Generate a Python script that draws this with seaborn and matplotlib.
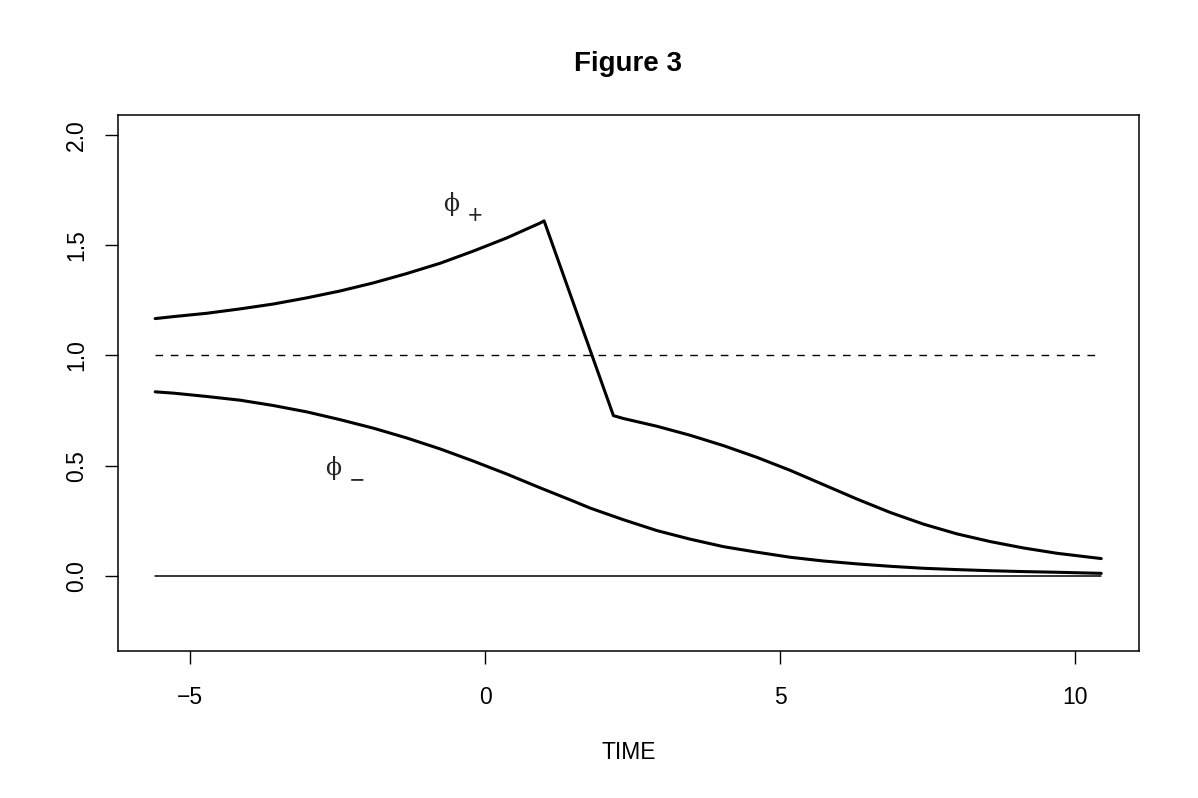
import matplotlib
matplotlib.use("Agg")
import matplotlib.pyplot as plt
import seaborn as sns
import pandas as pd

# ---- data ----
time_plus = [-5.59, -5.28, -4.72, -4.15, -3.59, -3.02, -2.46, -1.89,
             -1.33, -0.76, -0.20, 0.37, 0.93, 1.00,
             2.175, 2.345, 2.91, 3.475, 4.04, 4.605, 5.17, 5.735, 6.30,
             6.865, 7.43, 7.995, 8.56, 9.125, 9.69, 10.44]
phi_plus = [1.167, 1.176, 1.191, 1.211, 1.233, 1.261, 1.292, 1.329,
            1.371, 1.418, 1.473, 1.533, 1.600, 1.610,
            0.727, 0.714, 0.679, 0.638, 0.591, 0.538, 0.479, 0.414, 0.349,
            0.288, 0.235, 0.191, 0.156, 0.127, 0.103, 0.079]

time_minus = [-5.59, -5.28, -4.72, -4.15, -3.59, -3.02, -2.46, -1.89,
              -1.33, -0.76, -0.20, 0.37, 0.93, 1.50, 1.78,
              2.345, 2.91, 3.475, 4.04, 4.605, 5.17, 5.735, 6.30,
              6.865, 7.43, 7.995, 8.56, 9.125, 9.69, 10.44]
phi_minus = [0.835, 0.829, 0.814, 0.797, 0.773, 0.744, 0.709, 0.670,
             0.626, 0.576, 0.521, 0.462, 0.400, 0.339, 0.308,
             0.255, 0.206, 0.167, 0.133, 0.108, 0.085, 0.068, 0.055,
             0.044, 0.035, 0.029, 0.024, 0.020, 0.017, 0.012]

ref_time = [-5.59, 10.44]
ref_one = [1.0, 1.0]
ref_zero = [0.0, 0.0]

x_ticks = [-5, 0, 5, 10]
x_tick_labels = ["\u22125", "0", "5", "10"]
y_ticks = [0.0, 0.5, 1.0, 1.5, 2.0]
y_tick_labels = ["0.0", "0.5", "1.0", "1.5", "2.0"]

title = "Figure 3"
x_label = "TIME"

# ---- style ----
sns.set_theme(style="white")
plt.rcParams["font.family"] = ["Liberation Sans", "DejaVu Sans"]
plt.rcParams["axes.edgecolor"] = "black"
plt.rcParams["axes.linewidth"] = 1.1
plt.rcParams["lines.solid_capstyle"] = "round"
plt.rcParams["lines.solid_joinstyle"] = "round"

W, H = 1198, 798
fig = plt.figure(figsize=(W / 100, H / 100), dpi=100)
fig.patch.set_facecolor("white")
ax = fig.add_axes([118 / W, 1 - 651 / H, (1139 - 118) / W, (651 - 115) / H])

df_plus = pd.DataFrame({"time": time_plus, "phi": phi_plus})
df_minus = pd.DataFrame({"time": time_minus, "phi": phi_minus})

sns.lineplot(data=df_plus, x="time", y="phi", sort=False, color="black",
             linewidth=2.2, ax=ax, estimator=None)
sns.lineplot(data=df_minus, x="time", y="phi", sort=False, color="black",
             linewidth=2.2, ax=ax, estimator=None)
sns.lineplot(x=ref_time, y=ref_one, color="black", linewidth=1.0,
             linestyle=(0, (5.5, 5.5)), ax=ax, estimator=None)
sns.lineplot(x=ref_time, y=ref_zero, color="black", linewidth=1.1,
             ax=ax, estimator=None)

ax.set_xlim(-6.22, 11.08)
ax.set_ylim(-0.34, 2.09)

ax.set_xticks(x_ticks)
ax.set_xticklabels(x_tick_labels)
ax.set_yticks(y_ticks)
ax.set_yticklabels(y_tick_labels, rotation=90, va="center")

ax.tick_params(axis="both", which="major", direction="out", length=9.5,
               width=1.0, color="black", labelsize=16.5, labelcolor="black",
               bottom=True, left=True)
ax.tick_params(axis="x", pad=16)
ax.tick_params(axis="y", pad=12)

for s in ax.spines.values():
    s.set_visible(True)
    s.set_color("black")
    s.set_linewidth(1.1)

ax.set_xlabel(x_label, fontsize=16.5, color="black", labelpad=23)
ax.set_ylabel("")
ax.set_title(title, fontsize=20, fontweight="bold", color="black", pad=32)

# curve labels
sym = ["DejaVu Serif", "DejaVu Sans"]
ax.text(-0.57, 1.686, "\u03d5", fontsize=17, family=sym, ha="center", va="center")
ax.text(-0.17, 1.632, "+", fontsize=18, ha="center", va="center")
ax.text(-2.57, 0.488, "\u03d5", fontsize=17, family=sym, ha="center", va="center")
ax.text(-2.17, 0.434, "\u2212", fontsize=18, ha="center", va="center")

fig.savefig("out.png", dpi=100, facecolor="white")
